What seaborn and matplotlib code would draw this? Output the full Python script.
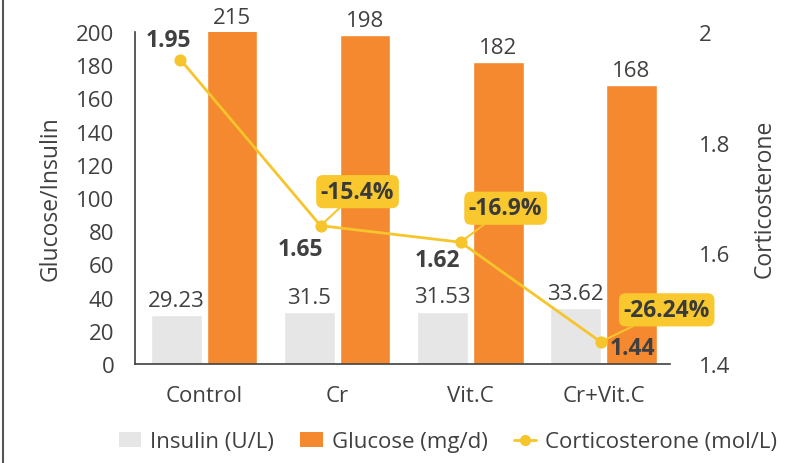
import numpy as np
import pandas as pd
import matplotlib
matplotlib.use('Agg')
import matplotlib.pyplot as plt
from matplotlib.lines import Line2D
from matplotlib.patches import Patch
import seaborn as sns

groups = ['Control', 'Cr', 'Vit.C', 'Cr+Vit.C']
insulin = [29.23, 31.5, 31.53, 33.62]
glucose = [215, 198, 182, 168]
cortico = [1.95, 1.65, 1.62, 1.44]
cortico_change = ['', '-15.4%', '-16.9%', '-26.24%']

INS_COLOR = '#E7E6E6'
GLU_COLOR = '#F4892F'
LINE_COLOR = '#F6C52C'
BOX_COLOR = '#F9C82E'
TEXT = '#404040'

sns.set_style('white')
plt.rcParams['font.family'] = ['Open Sans', 'DejaVu Sans']
plt.rcParams['text.color'] = TEXT
plt.rcParams['axes.labelcolor'] = TEXT
plt.rcParams['xtick.color'] = TEXT
plt.rcParams['ytick.color'] = TEXT

df = pd.DataFrame({
    'group': groups * 2,
    'value': insulin + glucose,
    'measure': ['Insulin (U/L)'] * 4 + ['Glucose (mg/d)'] * 4,
})

fig = plt.figure(figsize=(8, 4.64), dpi=100)
ax = fig.add_axes([0.169, 0.2134, 0.6685, 0.7156])

sns.barplot(data=df, x='group', y='value', hue='measure', order=groups,
            palette=[INS_COLOR, GLU_COLOR], saturation=1, width=0.84, gap=0.1,
            ax=ax, legend=False)
ax.set_ylim(0, 200)
ax.set_xlim(-0.52, 3.5)
ax.set_yticks(range(0, 201, 20))
ax.set_xlabel('')
ax.set_ylabel('Glucose/Insulin', fontsize=16.5, labelpad=10)
ax.tick_params(axis='y', length=0, pad=15, labelsize=16)
ax.tick_params(axis='x', length=0, pad=15, labelsize=16)
for side in ['top', 'right']:
    ax.spines[side].set_visible(False)
for side in ['left', 'bottom']:
    ax.spines[side].set_color('#404040')
    ax.spines[side].set_linewidth(1.2)

# value labels above bars (clipped to axis top like the reference)
ymax = ax.get_ylim()[1]
for cont, vals in zip(ax.containers, [insulin, glucose]):
    for patch, v in zip(cont.patches, vals):
        x = patch.get_x() + patch.get_width() / 2
        ax.annotate(f'{v:g}', (x, min(v, ymax)), xytext=(0, 3),
                    textcoords='offset points', ha='center', va='bottom',
                    fontsize=16, color=TEXT, annotation_clip=False)

# corticosterone on secondary axis
ax2 = ax.twinx()
line_x = np.arange(len(groups)) * 1.053 - 0.18
sns.lineplot(x=line_x, y=cortico, ax=ax2, color=LINE_COLOR, linewidth=2,
             marker='o', markersize=8, markeredgecolor=LINE_COLOR, legend=False)
ax2.set_ylim(1.4, 2.0)
ax2.set_yticks([1.4, 1.6, 1.8, 2.0])
ax2.set_yticklabels(['1.4', '1.6', '1.8', '2'])
ax2.tick_params(axis='y', length=0, pad=21, labelsize=16)
ax2.set_ylabel('Corticosterone', fontsize=16.5, labelpad=16)
for side in ax2.spines:
    ax2.spines[side].set_visible(False)

value_offsets = [(-12, 20), (-20, -23), (-23, -18), (32, -6)]
for x, v, off in zip(line_x, cortico, value_offsets):
    ax2.annotate(f'{v:.2f}', (x, v), xytext=off, textcoords='offset pixels',
                 ha='center', va='center', fontsize=16.5, fontweight='bold',
                 color=TEXT, annotation_clip=False)

box_offsets = [None, (37, 34), (45, 34), (66, 32)]
for x, v, lbl, off in zip(line_x, cortico, cortico_change, box_offsets):
    if not lbl:
        continue
    ax2.annotate(lbl, (x, v), xytext=off, textcoords='offset pixels',
                 ha='center', va='center', fontsize=16.5, fontweight='bold',
                 color='#3a3a3a', annotation_clip=False,
                 bbox=dict(boxstyle='round,pad=0.2,rounding_size=0.3',
                           fc=BOX_COLOR, ec='none'),
                 arrowprops=dict(arrowstyle='-', color=LINE_COLOR, lw=1.5,
                                 shrinkA=0, shrinkB=0))

handles = [
    Patch(facecolor=INS_COLOR, edgecolor='none', label='Insulin (U/L)'),
    Patch(facecolor=GLU_COLOR, edgecolor='none', label='Glucose (mg/d)'),
    Line2D([0], [0], color=LINE_COLOR, lw=2, marker='o', markersize=7,
           label='Corticosterone (mol/L)'),
]
fig.legend(handles=handles, loc='lower center', bbox_to_anchor=(0.56, -0.02),
           ncol=3, frameon=False, fontsize=16, handlelength=1.0,
           handletextpad=0.4, columnspacing=1.2, labelcolor=TEXT)

fig.add_artist(Line2D([0.004, 0.004], [0, 1], color='#555555', lw=1.5,
                      transform=fig.transFigure))

fig.savefig('out.png', dpi=100)
